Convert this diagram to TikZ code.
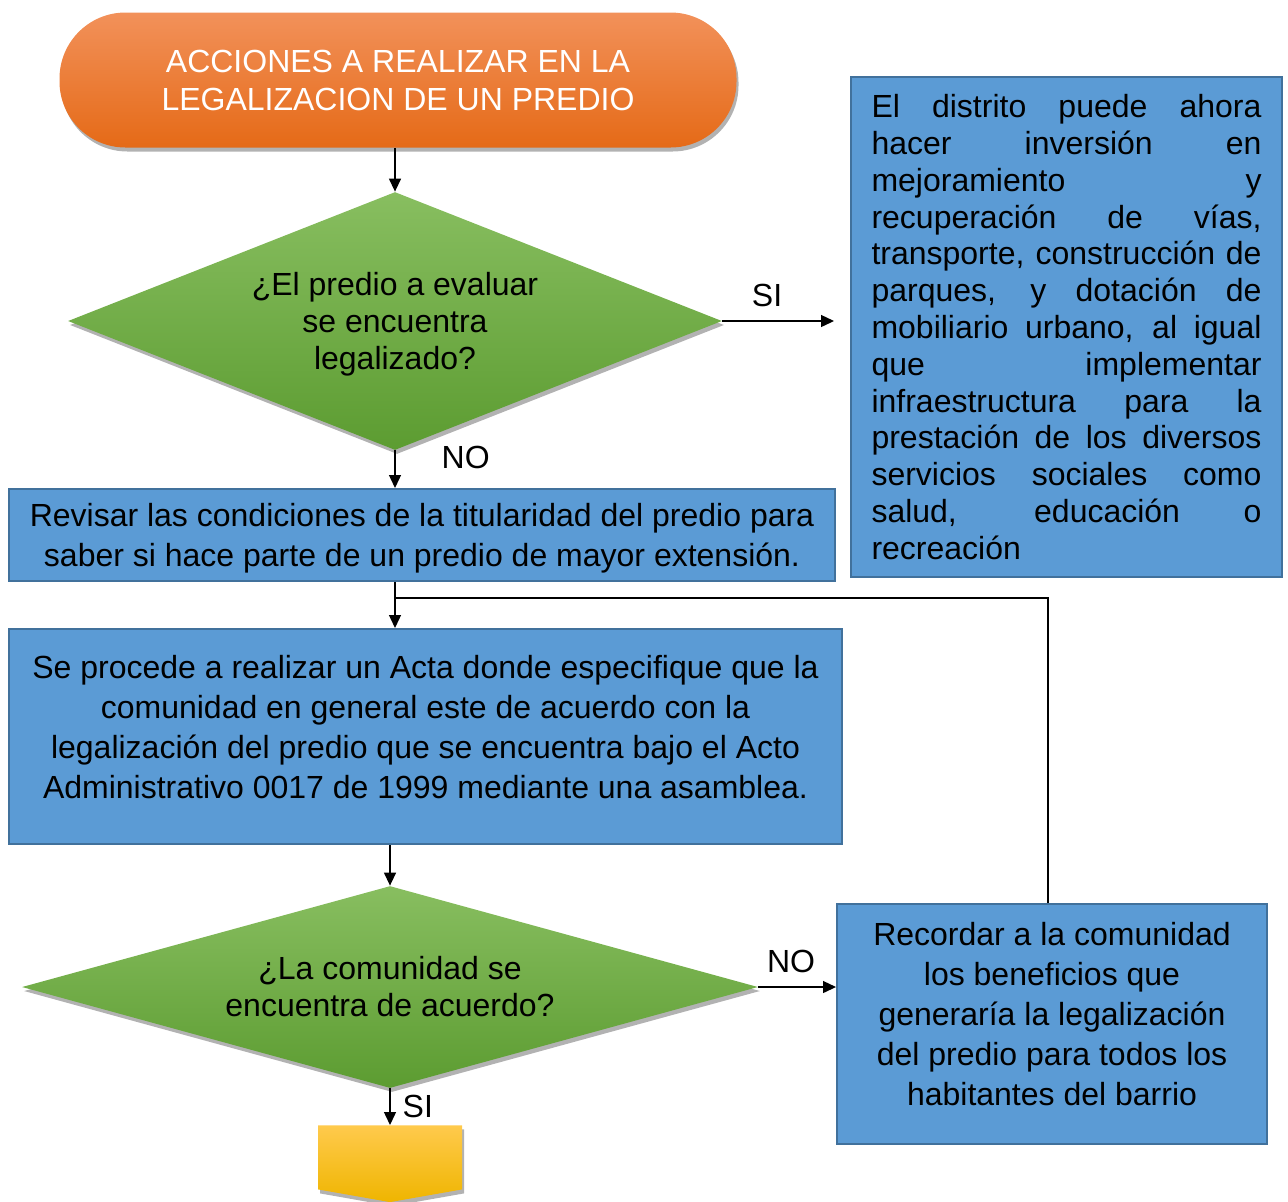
\documentclass[tikz,border=0pt]{standalone}
\usepackage{fontspec}
\setmainfont{Liberation Sans}
\usetikzlibrary{arrows.meta, shapes.geometric, shapes.symbols, shadows}
\definecolor{naranjaA}{HTML}{F2915A}
\definecolor{naranjaB}{HTML}{E56A17}
\definecolor{verdeA}{HTML}{88BE60}
\definecolor{verdeB}{HTML}{5C9C31}
\definecolor{azul}{HTML}{5B9BD5}
\definecolor{azulborde}{HTML}{41719C}
\definecolor{amarilloA}{HTML}{FFCA4D}
\definecolor{amarilloB}{HTML}{EFB500}

\begin{document}
\begin{tikzpicture}[
  x=0.5pt, y=-0.5pt,
  sombra/.style={drop shadow={shadow xshift=1pt, shadow yshift=-2pt, opacity=0.3, fill=black}},
  terminal/.style={rectangle, rounded corners=33pt, top color=naranjaA, bottom color=naranjaB,
                   sombra, text=white, align=center, font=\fontsize{16}{19}\selectfont,
                   minimum width=338.5pt, minimum height=67.5pt},
  decision/.style={diamond, top color=verdeA, bottom color=verdeB, sombra, align=center,
                   inner sep=0pt, font=\fontsize{16}{18.5}\selectfont},
  proceso/.style={rectangle, draw=azulborde, line width=1pt, fill=azul, align=center,
                  font=\fontsize{16}{20}\selectfont},
  flecha/.style={line width=0.65pt, -{Triangle[length=6.5pt, width=6pt]}},
  linea/.style={line width=0.6pt},
  etiqueta/.style={font=\fontsize{16}{19}\selectfont, inner sep=1pt},
]
\useasboundingbox (0,0) rectangle (1288,1201);

\node[terminal] (inicio) at (398, 80) {ACCIONES A REALIZAR EN LA\\LEGALIZACION DE UN PREDIO};
\node[decision, aspect=2.53, minimum width=327pt, minimum height=129pt, text depth=0pt] (pregunta1) at (395, 321)
  {¿El predio a evaluar\\se encuentra\\legalizado?};
\node[proceso, align=justify, text width=195pt, inner xsep=10.25pt, minimum height=250pt,
      font=\fontsize{16}{18.4}\selectfont] (distrito) at (1066.5, 327)
  {El distrito puede ahora\linebreak hacer inversión en\linebreak mejoramiento y\linebreak
   recuperación de vías,\linebreak transporte, construcción de\linebreak parques, y dotación de\linebreak
   mobiliario urbano, al igual\linebreak que implementar\linebreak infraestructura para la\linebreak
   prestación de los diversos\linebreak servicios sociales como\linebreak salud, educación o\linebreak
   recreación};
\node[proceso, minimum width=413pt, minimum height=46pt, inner sep=2pt, text depth=-8pt] (revisar) at (422, 535)
  {Revisar las condiciones de la titularidad del predio para\\saber si hace parte de un predio de mayor extensión.};
\node[proceso, minimum width=416.5pt, minimum height=107.5pt, text depth=10pt] (acta) at (425.5, 736.5)
  {Se procede a realizar un Acta donde especifique que la\\comunidad en general este de acuerdo con la\\
   legalización del predio que se encuentra bajo el Acto\\Administrativo 0017 de 1999 mediante una asamblea.};
\node[decision, aspect=3.64, minimum width=368pt, minimum height=101pt] (pregunta2) at (390, 987)
  {¿La comunidad se\\encuentra de acuerdo?};
\node[proceso, minimum width=215pt, minimum height=120pt, text depth=10pt] (recordar) at (1052, 1024)
  {Recordar a la comunidad\\los beneficios que\\generaría la legalización\\del predio para todos los\\habitantes del barrio};
\node[shape=signal, signal to=south, signal pointer angle=160, top color=amarilloA, bottom color=amarilloB,
      sombra, minimum width=72pt, minimum height=32pt, inner sep=0pt, anchor=north] (conector) at (390, 1125) {};

\coordinate (union) at (395, 598);

\draw[flecha] (inicio.south -| pregunta1.north) -- (pregunta1.north);
\draw[flecha, shorten >=8pt] (pregunta1.east) -- (pregunta1.east -| distrito.west)
  node[etiqueta, above=6pt, pos=0.35] (si1) {SI};
\draw[flecha] (pregunta1.south) -- (pregunta1.south |- revisar.north)
  node[etiqueta, right=22pt, pos=0.2] (no1) {NO};
\draw[flecha] (pregunta1.south |- revisar.south) -- (pregunta1.south |- acta.north);
\draw[linea] ([xshift=-2pt]recordar.north) |- (union);
\draw[flecha] (acta.south -| pregunta2.north) -- (pregunta2.north);
\draw[flecha] (pregunta2.east) -- (pregunta2.east -| recordar.west)
  node[etiqueta, above=6pt, pos=0.42] (no2) {NO};
\draw[flecha] (pregunta2.south) -- (conector.north)
  node[etiqueta, right=5pt, pos=0.5] (si2) {SI};

\end{tikzpicture}
\end{document}
